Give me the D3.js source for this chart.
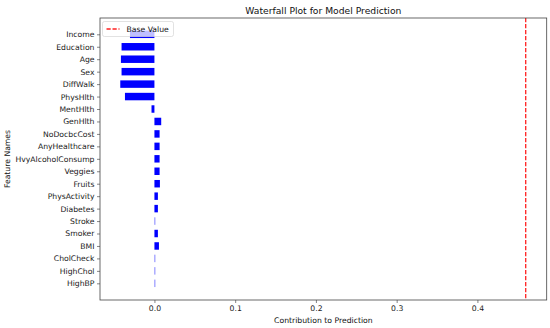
<!DOCTYPE html>
<html>
<head>
<meta charset="utf-8">
<script src="https://cdn.jsdelivr.net/npm/d3@7"></script>
<style>
	body { margin: 0; background: #fff; }
	svg { font-family: "DejaVu Sans", sans-serif; }
</style>
</head>
<body>
<div id="chart"></div>
<script>
// feature names, top to bottom
var features = ["Income", "Education", "Age", "Sex", "DiffWalk", "PhysHlth", "MentHlth",
	"GenHlth", "NoDocbcCost", "AnyHealthcare", "HvyAlcoholConsump", "Veggies", "Fruits",
	"PhysActivity", "Diabetes", "Stroke", "Smoker", "BMI", "CholCheck", "HighChol", "HighBP"];
var contributions = [-0.0303, -0.0407, -0.0415, -0.0407, -0.0423, -0.0365, -0.0036,
	0.0084, 0.0064, 0.0064, 0.0064, 0.0064, 0.0068,
	0.0043, 0.0043, 0.0003, 0.0043, 0.0056, 0.0002, 0.0002, 0.0002];
var baseValue = 0.4598;
var xTicks = [0.0, 0.1, 0.2, 0.3, 0.4];

var width = 550;
var height = 328;
var margin = { top: 18, right: 3.3, bottom: 28, left: 100 };

var svg = d3.select('#chart')
	.append('svg')
	.attr('width', width)
	.attr('height', height);

var x = d3.scaleLinear()
	.domain([-0.0674, 0.4858])
	.range([margin.left, width - margin.right]);

var y = d3.scaleLinear()
	.domain([-1.31, features.length - 1 + 1.34])
	.range([margin.top, height - margin.bottom]);

var barH = 0.6;

// bars (tiny ones still show as a faint antialiased line)
svg.append('g').selectAll('rect')
	.data(contributions)
	.enter()
	.append('rect')
	.attr('x', d => x(Math.min(0, d)))
	.attr('width', d => Math.max(0.9, Math.abs(x(d) - x(0))))
	.attr('y', (d, i) => y(i - barH / 2))
	.attr('height', y(barH) - y(0))
	.style('fill', '#0000ff')
	.style('fill-opacity', d => Math.abs(x(d) - x(0)) < 0.9 ? 0.55 : 1);

// base value line
svg.append('line')
	.attr('x1', x(baseValue))
	.attr('x2', x(baseValue))
	.attr('y1', margin.top)
	.attr('y2', height - margin.bottom)
	.style('stroke', '#ff2020')
	.style('stroke-width', 1.3)
	.style('stroke-dasharray', '4.2,1.8');

// x axis
var xAxis = svg.append('g')
	.attr('transform', 'translate(0,' + (height - margin.bottom) + ')')
	.call(d3.axisBottom(x).tickValues(xTicks).tickFormat(d3.format('.1f')).tickSize(3).tickPadding(2.5));

// y axis
var yAxis = svg.append('g')
	.attr('transform', 'translate(' + margin.left + ',0)')
	.call(d3.axisLeft(y).tickValues(d3.range(features.length)).tickFormat(i => features[i]).tickSize(3).tickPadding(2.5));

[xAxis, yAxis].forEach(a => {
	a.select('.domain').remove();
	a.selectAll('line').style('stroke', '#333').style('stroke-width', 0.6);
	a.selectAll('text').style('font-size', '7.7px').style('fill', '#1a1a1a').style('font-family', '"DejaVu Sans", sans-serif');
});

// frame
svg.append('rect')
	.attr('x', margin.left)
	.attr('y', margin.top)
	.attr('width', width - margin.right - margin.left)
	.attr('height', height - margin.bottom - margin.top)
	.style('fill', 'none')
	.style('stroke', '#444')
	.style('stroke-width', 0.8);

// title
svg.append('text')
	.attr('x', (margin.left + width - margin.right) / 2)
	.attr('y', 13.5)
	.attr('text-anchor', 'middle')
	.style('font-size', '9.2px')
	.style('fill', '#111')
	.text('Waterfall Plot for Model Prediction');

// axis labels
svg.append('text')
	.attr('x', (margin.left + width - margin.right) / 2)
	.attr('y', 322.5)
	.attr('text-anchor', 'middle')
	.style('font-size', '7.7px')
	.style('fill', '#111')
	.text('Contribution to Prediction');

svg.append('text')
	.attr('transform', 'translate(9.5,' + ((margin.top + height - margin.bottom) / 2) + ') rotate(-90)')
	.attr('text-anchor', 'middle')
	.style('font-size', '7.7px')
	.style('fill', '#111')
	.text('Feature Names');

// legend
var legend = svg.append('g').attr('transform', 'translate(102.5,21.5)');
legend.append('rect')
	.attr('width', 71)
	.attr('height', 15)
	.attr('rx', 2)
	.style('fill', '#fff')
	.style('fill-opacity', 0.75)
	.style('stroke', '#d5d5d5')
	.style('stroke-width', 0.7);
legend.append('line')
	.attr('x1', 4).attr('x2', 17)
	.attr('y1', 7.5).attr('y2', 7.5)
	.style('stroke', '#ff2020')
	.style('stroke-width', 1.3)
	.style('stroke-dasharray', '4.2,1.8');
legend.append('text')
	.attr('x', 24)
	.attr('y', 10.3)
	.style('font-size', '7.7px')
	.style('fill', '#111')
	.text('Base Value');
</script>
</body>
</html>
